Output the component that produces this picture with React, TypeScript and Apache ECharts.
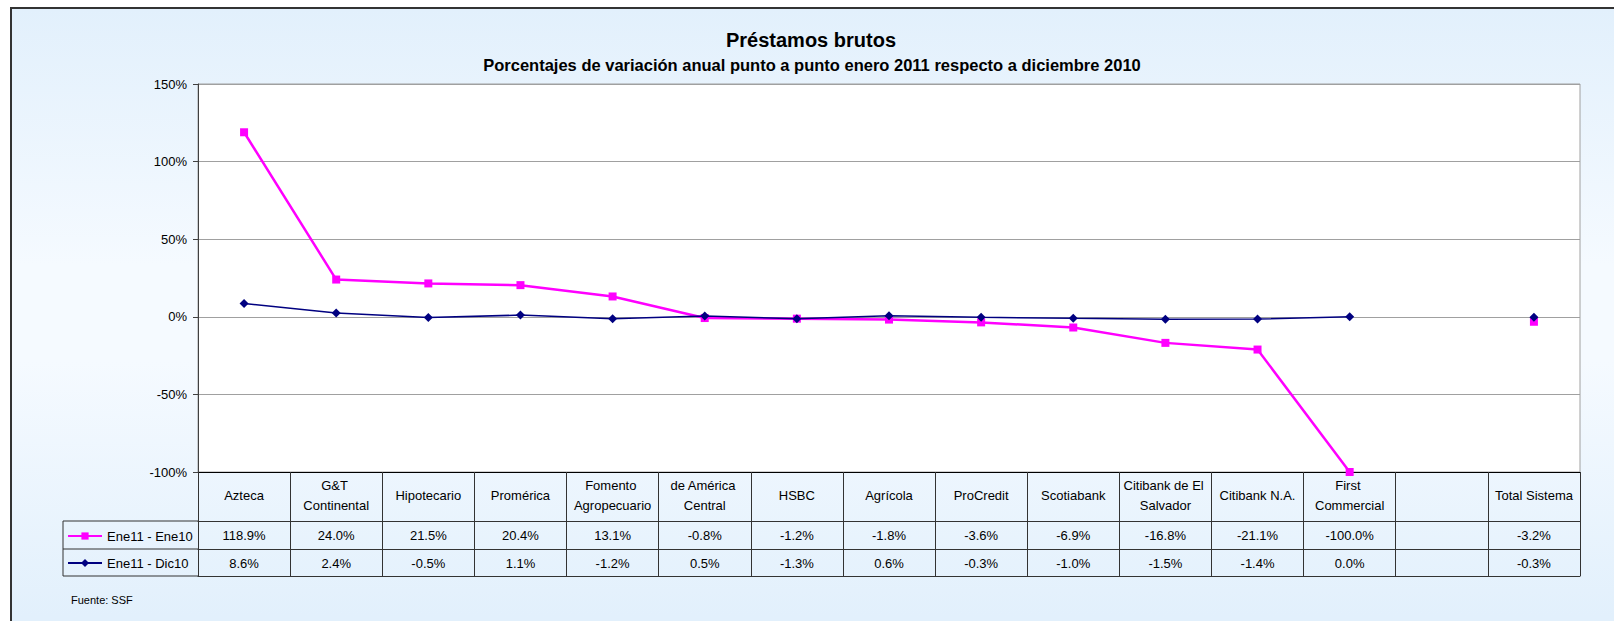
import React, { useEffect, useRef } from 'react';
import * as echarts from 'echarts';

const categories = [
  'Azteca',
  'G&T Continental',
  'Hipotecario',
  'Promérica',
  'Fomento Agropecuario',
  'de América Central',
  'HSBC',
  'Agrícola',
  'ProCredit',
  'Scotiabank',
  'Citibank de El Salvador',
  'Citibank N.A.',
  'First Commercial',
  '',
  'Total Sistema',
];
const seriesNames = ['Ene11 - Ene10', 'Ene11 - Dic10'];
const ene11Ene10: (number | null)[] = [118.9, 24.0, 21.5, 20.4, 13.1, -0.8, -1.2, -1.8, -3.6, -6.9, -16.8, -21.1, -100.0, null, -3.2];
const ene11Dic10: (number | null)[] = [8.6, 2.4, -0.5, 1.1, -1.2, 0.5, -1.3, 0.6, -0.3, -1.0, -1.5, -1.4, 0.0, null, -0.3];
const yMin = -100;
const yMax = 150;
const yStep = 50;
const titleText = 'Préstamos brutos';
const subtitleText = 'Porcentajes de variación anual punto a punto enero 2011 respecto a diciembre 2010';
const sourceText = 'Fuente: SSF';

const FONT = '"Liberation Sans", Arial, sans-serif';
const fmt = (v: number | null) => (v == null ? '' : v.toFixed(1) + '%');
const LINE = '#333333';

export default function App() {
  const ref = useRef<HTMLDivElement>(null);
  useEffect(() => {
    document.body.style.margin = '0';
    if (!ref.current) return;
    const chart = echarts.init(ref.current, undefined, { renderer: 'svg' });
    const valueAxis = (data: string[], offset: number, showLabel: boolean) => ({
      type: 'category',
      data,
      position: 'bottom',
      offset,
      gridIndex: 0,
      boundaryGap: true,
      axisLine: { show: true, onZero: false, lineStyle: { color: LINE, width: 1 } },
      axisTick: { show: false },
      splitLine: { show: false },
      axisLabel: {
        show: showLabel,
        interval: 0,
        margin: 14,
        verticalAlign: 'middle',
        color: '#000',
        fontSize: 13,
        fontFamily: FONT,
      },
    });
    chart.setOption({
      animation: false,
      textStyle: { fontFamily: FONT },
      title: [
        {
          text: titleText,
          left: 811,
          textAlign: 'center',
          top: 28,
          padding: 0,
          textStyle: { fontSize: 20, fontWeight: 'bold', color: '#000', lineHeight: 24, fontFamily: FONT },
        },
        {
          text: subtitleText,
          left: 812,
          textAlign: 'center',
          top: 56,
          padding: 0,
          textStyle: { fontSize: 16.5, fontWeight: 'bold', color: '#000', lineHeight: 18, fontFamily: FONT },
        },
      ],
      legend: [
        {
          data: [seriesNames[0]],
          left: 67,
          top: 529,
          padding: 0,
          itemWidth: 34,
          itemHeight: 9,
          itemGap: 0,
          textStyle: { fontSize: 13, color: '#000', lineHeight: 14, fontFamily: FONT },
        },
        {
          data: [seriesNames[1]],
          left: 67,
          top: 556,
          padding: 0,
          itemWidth: 34,
          itemHeight: 10,
          itemGap: 0,
          textStyle: { fontSize: 13, color: '#000', lineHeight: 14, fontFamily: FONT },
        },
      ],
      grid: {
        left: 198,
        right: 34,
        top: 84,
        bottom: 149,
        show: true,
        backgroundColor: '#ffffff',
        borderColor: '#a0a0a0',
        borderWidth: 1,
        containLabel: false,
        outerBoundsMode: 'none',
      },
      xAxis: [
        {
          type: 'category',
          data: categories,
          position: 'bottom',
          boundaryGap: true,
          axisLine: { show: true, onZero: false, lineStyle: { color: '#000', width: 1 } },
          axisTick: { show: true, length: 104, inside: false, interval: 0, lineStyle: { color: LINE, width: 1 } },
          splitLine: { show: false },
          axisLabel: {
            interval: 0,
            margin: 23,
            verticalAlign: 'middle',
            align: 'center',
            width: 86,
            overflow: 'break',
            lineHeight: 20,
            color: '#000',
            fontSize: 13,
            fontFamily: FONT,
            hideOverlap: false,
          },
        },
        valueAxis(ene11Ene10.map(fmt), 49, true),
        valueAxis(ene11Dic10.map(fmt), 77, true),
        valueAxis(categories.map(() => ''), 104, false),
      ],
      yAxis: {
        type: 'value',
        min: yMin,
        max: yMax,
        interval: yStep,
        axisLine: { show: true, lineStyle: { color: '#404040', width: 1 } },
        axisTick: { show: true, length: 5, lineStyle: { color: '#404040' } },
        splitLine: { show: true, lineStyle: { color: '#a0a0a0', width: 1 } },
        axisLabel: {
          margin: 11,
          color: '#000',
          fontSize: 13,
          fontFamily: FONT,
          formatter: (v: number) => `${v}%`,
        },
      },
      series: [
        {
          name: seriesNames[0],
          type: 'line',
          data: ene11Ene10,
          connectNulls: false,
          symbol: 'rect',
          symbolSize: 8,
          lineStyle: { color: '#ff00ff', width: 2.5 },
          itemStyle: { color: '#ff00ff' },
          z: 2,
        },
        {
          name: seriesNames[1],
          type: 'line',
          data: ene11Dic10,
          connectNulls: false,
          symbol: 'diamond',
          symbolSize: 9,
          lineStyle: { color: '#000080', width: 1.5 },
          itemStyle: { color: '#000080' },
          z: 3,
        },
      ],
      graphic: [
        { type: 'line', shape: { x1: 63, y1: 521, x2: 198, y2: 521 }, style: { stroke: LINE, lineWidth: 1 } },
        { type: 'line', shape: { x1: 63, y1: 549, x2: 198, y2: 549 }, style: { stroke: LINE, lineWidth: 1 } },
        { type: 'line', shape: { x1: 63, y1: 576, x2: 198, y2: 576 }, style: { stroke: LINE, lineWidth: 1 } },
        { type: 'line', shape: { x1: 63, y1: 521, x2: 63, y2: 576 }, style: { stroke: LINE, lineWidth: 1 } },
        {
          type: 'text',
          x: 71,
          y: 600,
          style: { text: sourceText, fontSize: 11, fill: '#000', fontFamily: FONT, verticalAlign: 'middle', align: 'left' },
        },
      ],
    });
    return () => chart.dispose();
  }, []);

  return (
    <div style={{ position: 'relative', width: 1614, height: 621, overflow: 'hidden', background: '#ffffff' }}>
      <div
        style={{
          position: 'absolute',
          left: 10,
          top: 7,
          width: 1700,
          height: 640,
          border: '2px solid #333',
          background: 'linear-gradient(to bottom, #e2f0fc 0%, #f5faff 40%, #f5faff 55%, #e2f0fc 95%)',
        }}
      />
      <div ref={ref} style={{ position: 'absolute', left: 0, top: 0, width: 1614, height: 621 }} />
    </div>
  );
}
